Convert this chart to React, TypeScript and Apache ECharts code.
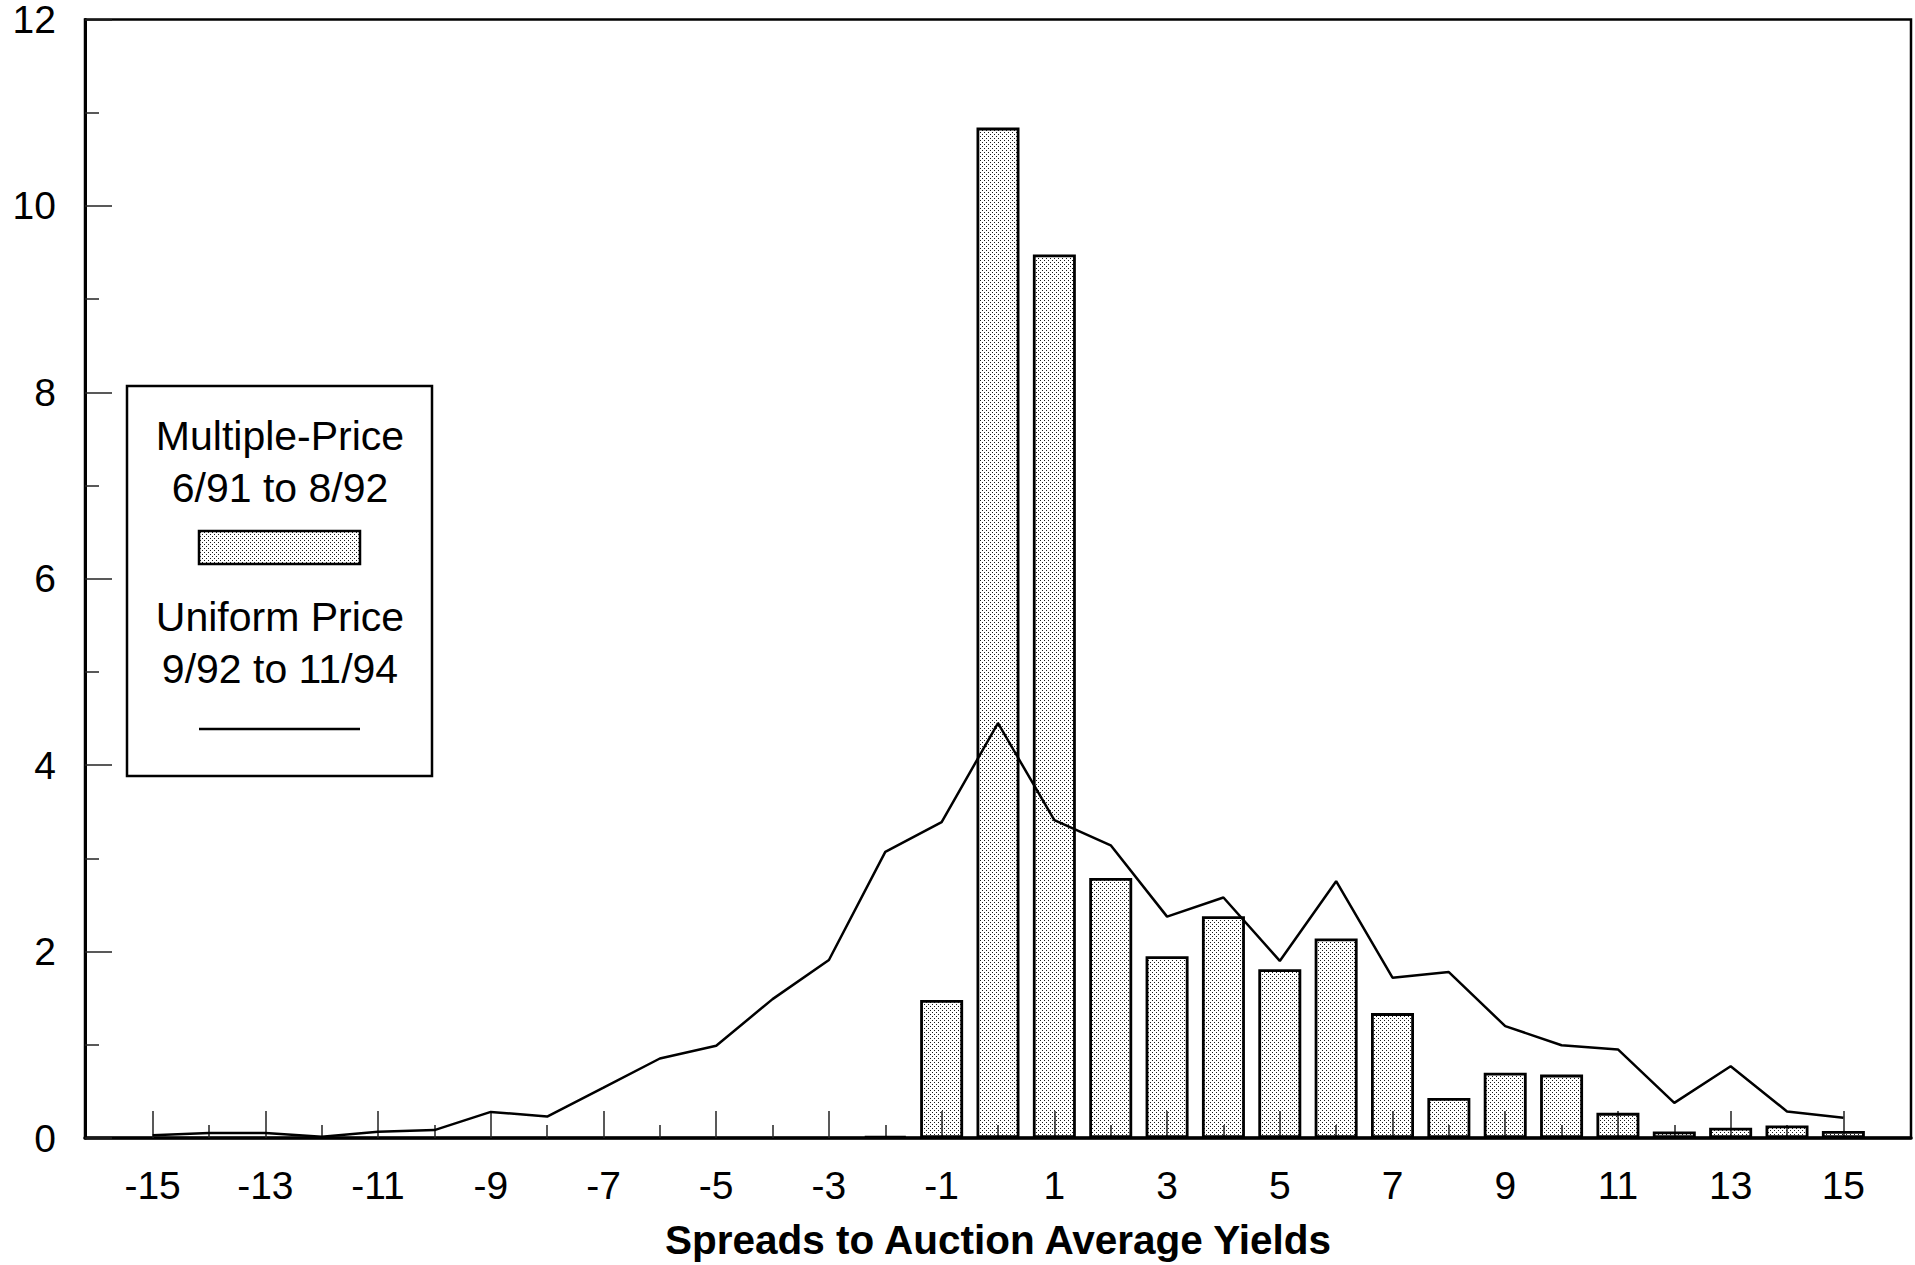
import React, { useEffect, useRef } from "react";
import * as echarts from "echarts";

// Spread (x) positions of the multiple-price bars and their values (%)
const barSpreads = [-2, -1, 0, 1, 2, 3, 4, 5, 6, 7, 8, 9, 10, 11, 12, 13, 14, 15];
const multiplePriceValues = [
  0.02, 1.48, 10.84, 9.48, 2.79, 1.95, 2.38, 1.81, 2.14, 1.34, 0.43, 0.7, 0.68, 0.27, 0.07, 0.11, 0.135, 0.075,
];

// Spread (x) positions of the uniform-price line and its values (%)
const lineSpreads = [
  -15, -14, -13, -12, -11, -10, -9, -8, -7, -6, -5, -4, -3, -2, -1, 0, 1, 2, 3, 4, 5, 6, 7, 8, 9, 10, 11, 12, 13, 14, 15,
];
const uniformPriceValues = [
  0.03, 0.053, 0.053, 0.014, 0.068, 0.085, 0.28, 0.23, 0.54, 0.853, 0.99, 1.49, 1.91, 3.07, 3.39, 4.45, 3.41, 3.14,
  2.375, 2.58, 1.9, 2.755, 1.72, 1.78, 1.2, 0.995, 0.95, 0.377, 0.77, 0.285, 0.217,
];

// Tick labels
const xLabelTicks = [-15, -13, -11, -9, -7, -5, -3, -1, 1, 3, 5, 7, 9, 11, 13, 15];
const xMinorTicks = [-14, -12, -10, -8, -6, -4, -2, 0, 2, 4, 6, 8, 10, 12, 14];
const yTickLabels = [0, 2, 4, 6, 8, 10, 12];

const xAxisTitle = "Spreads to Auction Average Yields";
const legendLines = ["Multiple-Price", "6/91 to 8/92", "Uniform Price", "9/92 to 11/94"];

const FONT = '"Liberation Sans", Arial, Helvetica, sans-serif';

function makePattern() {
  const c = document.createElement("canvas");
  c.width = 4;
  c.height = 4;
  const ctx = c.getContext("2d");
  if (ctx) {
    ctx.fillStyle = "#1a1a1a";
    ctx.fillRect(0, 0, 1, 1);
    ctx.fillRect(2, 2, 1, 1);
  }
  return { image: c, repeat: "repeat", imageWidth: 4, imageHeight: 4 } as any;
}

export default function App() {
  const ref = useRef<HTMLDivElement>(null);

  useEffect(() => {
    if (!ref.current) return;
    const chart = echarts.init(ref.current, null, { renderer: "svg" });
    const pattern = makePattern();
    const tickStyle = { color: "#222", width: 1.5 };

    const option: any = {
      animation: false,
      backgroundColor: "#fff",
      grid: {
        left: 85,
        top: 18,
        right: 4,
        bottom: 121.5,
        show: true,
        borderColor: "#000",
        borderWidth: 2.5,
        backgroundColor: "transparent",
      },
      xAxis: [
        {
          type: "value",
          min: -16.2,
          max: 16.2,
          position: "bottom",
          axisLine: { show: true, onZero: false, lineStyle: { color: "#000", width: 3.5 } },
          axisTick: { show: true, inside: true, length: 27, customValues: xLabelTicks, lineStyle: tickStyle },
          axisLabel: {
            show: true,
            customValues: xLabelTicks,
            fontSize: 39,
            fontFamily: FONT,
            color: "#000",
            margin: 28,
          },
          splitLine: { show: false },
          name: xAxisTitle,
          nameLocation: "middle",
          nameGap: 81,
          nameTextStyle: { fontSize: 40.5, fontWeight: "bold", fontFamily: FONT, color: "#000" },
        },
        {
          type: "value",
          min: -16.2,
          max: 16.2,
          position: "bottom",
          axisLine: { show: false, onZero: false },
          axisTick: { show: true, inside: true, length: 13, customValues: xMinorTicks, lineStyle: tickStyle },
          axisLabel: { show: false },
          splitLine: { show: false },
        },
      ],
      yAxis: {
        type: "value",
        position: "left",
        min: yTickLabels[0],
        max: yTickLabels[yTickLabels.length - 1],
        interval: 2,
        axisLine: { show: true, onZero: false, lineStyle: { color: "#000", width: 3 } },
        axisTick: { show: true, inside: true, length: 27, lineStyle: tickStyle },
        minorTick: { show: true, splitNumber: 2, length: 14, lineStyle: tickStyle },
        axisLabel: {
          fontSize: 39,
          lineHeight: 24,
          padding: [6, 0, 0, 0],
          fontFamily: FONT,
          color: "#000",
          margin: 29,
        },
        splitLine: { show: false },
      },
      series: [
        {
          type: "bar",
          xAxisIndex: 0,
          data: barSpreads.map((x, i) => [x, multiplePriceValues[i]]),
          barWidth: 43,
          itemStyle: { color: pattern, borderColor: "#000", borderWidth: 2.8 },
          z: 2,
        },
        {
          type: "line",
          xAxisIndex: 0,
          data: lineSpreads.map((x, i) => [x, uniformPriceValues[i]]),
          showSymbol: false,
          symbol: "none",
          lineStyle: { color: "#000", width: 2.5 },
          z: 3,
        },
      ],
      graphic: [
        {
          type: "rect",
          shape: { x: 127, y: 386, width: 305, height: 390 },
          style: { fill: "#fff", stroke: "#000", lineWidth: 2.5 },
          z: 10,
        },
        ...[436, 488, 617, 669].map((y, i) => ({
          type: "text",
          x: 280,
          y,
          z: 11,
          style: {
            text: legendLines[i],
            fill: "#000",
            font: `41px ${FONT}`,
            align: "center",
            textAlign: "center",
            verticalAlign: "middle",
            textVerticalAlign: "middle",
          },
        })),
        {
          type: "rect",
          shape: { x: 199, y: 531, width: 161, height: 33 },
          style: { fill: pattern, stroke: "#000", lineWidth: 2.5 },
          z: 11,
        },
        {
          type: "line",
          shape: { x1: 199, y1: 729, x2: 360, y2: 729 },
          style: { stroke: "#000", lineWidth: 2.5 },
          z: 11,
        },
      ],
    };

    chart.setOption(option);
    return () => chart.dispose();
  }, []);

  return (
    <div
      ref={ref}
      style={{ position: "fixed", left: 0, top: 0, width: 1915, height: 1265, background: "#fff" }}
    />
  );
}
